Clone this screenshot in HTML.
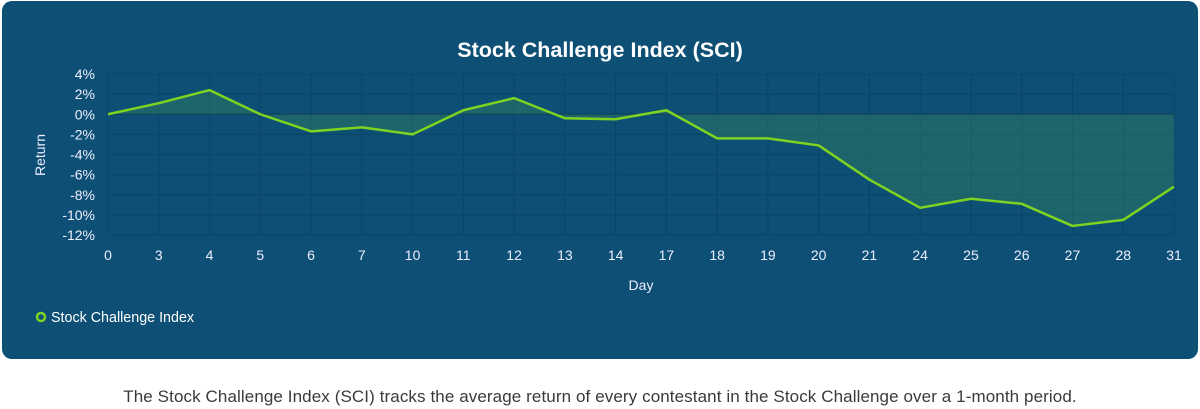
<!DOCTYPE html>
<html><head><meta charset="utf-8"><style>
body{margin:0;width:1200px;height:409px;background:#fff;font-family:"Liberation Sans",sans-serif;overflow:hidden}
#card{position:absolute;left:2px;top:1px;width:1196px;height:358px;background:#0d4f75;border-radius:10px}
#cap{position:absolute;left:0;width:1200px;top:387px;text-align:center;font-size:17px;color:#3a3a3a;letter-spacing:0.1px}
</style></head><body>
<div id="card"></div>
<svg id="chart" width="1200" height="409" style="position:absolute;left:0;top:0"></svg>
<div id="cap">The Stock Challenge Index (SCI) tracks the average return of every contestant in the Stock Challenge over a 1-month period.</div>
<script>
const days=["0","3","4","5","6","7","10","11","12","13","14","17","18","19","20","21","24","25","26","27","28","31"];
const values=[0,1.1,2.4,0,-1.7,-1.3,-2,0.4,1.6,-0.4,-0.5,0.4,-2.4,-2.4,-3.1,-6.5,-9.3,-8.4,-8.9,-11.1,-10.5,-7.2];
const yTicks=[4,2,0,-2,-4,-6,-8,-10,-12];
const NS="http://www.w3.org/2000/svg";
const svg=document.getElementById('chart');
const x0=108,x1=1174,yTop=74,yBot=235;
const xs=i=>x0+i*(x1-x0)/(days.length-1);
const ys=v=>yTop+(4-v)*(yBot-yTop)/16;
function mk(t,a){const e=document.createElementNS(NS,t);for(const k in a)e.setAttribute(k,a[k]);svg.appendChild(e);return e;}
yTicks.forEach(v=>{
 const l=mk('line',{x1:x0,x2:x1,y1:ys(v),y2:ys(v),stroke:v===0?'#0a3550':'#0b4567','stroke-width':1});
 
 
 const t=mk('text',{x:95,y:ys(v)+5,'text-anchor':'end','font-size':14,fill:'#eef'});t.textContent=v+'%';
 
 
});
days.forEach((d,i)=>{
 const l=mk('line',{x1:xs(i),x2:xs(i),y1:yTop,y2:yBot,stroke:'#0b4567','stroke-width':1});
 
 
 const t=mk('text',{x:xs(i),y:260,'text-anchor':'middle','font-size':14,fill:'#eef'});t.textContent=d;
 
 
});
let pts=values.map((v,i)=>xs(i)+','+ys(v)).join(' ');
const area=mk('polygon',{points:xs(0)+','+ys(0)+' '+pts+' '+xs(values.length-1)+','+ys(0),fill:'rgba(60,140,90,0.35)'});


const line=mk('polyline',{points:pts,fill:'none',stroke:'#7ed321','stroke-width':2.5,'stroke-linejoin':'round'});


const title=mk('text',{x:600,y:57,'text-anchor':'middle','font-size':21.5,'font-weight':'bold',fill:'#fff'});title.textContent='Stock Challenge Index (SCI)';


const xt=mk('text',{x:641,y:290,'text-anchor':'middle','font-size':14,fill:'#eef'});xt.textContent='Day';


const yt=mk('text',{x:45,y:155,'text-anchor':'middle','font-size':14,fill:'#eef',transform:'rotate(-90 45 155)'});yt.textContent='Return';


const lc=mk('circle',{cx:41,cy:317,r:4,fill:'none',stroke:'#7ed321','stroke-width':2.5});


const lt=mk('text',{x:51,y:322,'font-size':14.3,fill:'#fff'});lt.textContent='Stock Challenge Index';


</script>
</body></html>
